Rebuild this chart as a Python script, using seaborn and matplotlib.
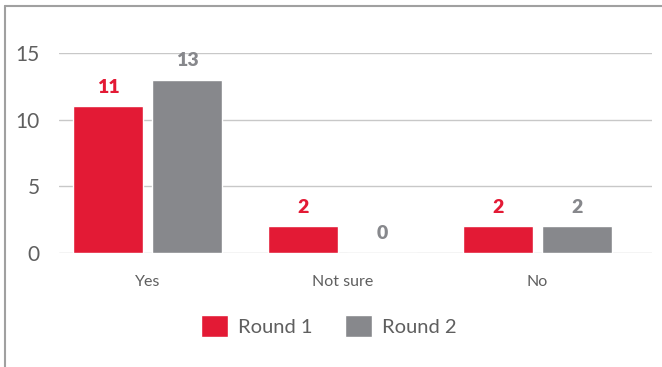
import matplotlib
matplotlib.use("Agg")
import matplotlib.pyplot as plt
import seaborn as sns
import pandas as pd
from matplotlib.lines import Line2D

categories = ['Yes', 'Not sure', 'No']
round1 = [11, 2, 2]
round2 = [13, 0, 2]
series = ['Round 1', 'Round 2']
colors = ['#E31A35', '#87888C']
text_gray = '#5F5F5F'

df = pd.DataFrame({
    'answer': categories * 2,
    'count': round1 + round2,
    'round': [series[0]] * 3 + [series[1]] * 3,
})

sns.set_style('white')
plt.rcParams['font.family'] = ['Lato', 'DejaVu Sans']

fig = plt.figure(figsize=(6.62, 3.67), dpi=100)
ax = fig.add_axes([59 / 662, 1 - 253 / 367, (652 - 59) / 662, 200 / 367])

sns.barplot(data=df, x='answer', y='count', hue='round', order=categories,
            hue_order=series, palette=colors, width=0.81, gap=0.114,
            saturation=1, ax=ax, legend=True)

# value labels
for bars, col in zip(ax.containers, colors):
    for rect in bars:
        h = rect.get_height()
        ax.text(rect.get_x() + rect.get_width() / 2, h + 0.8, f'{int(h)}',
                ha='center', va='bottom', color=col, fontsize=14,
                fontweight='heavy')

ax.set_ylim(0, 15)
ax.set_xlim(-0.454, 2.587)
ax.set_yticks([0, 5, 10, 15])
ax.yaxis.grid(True, color='#C8C8C8', linewidth=1)
ax.set_axisbelow(True)
for s in ax.spines.values():
    s.set_visible(False)
ax.tick_params(axis='y', length=0, labelsize=15, labelcolor=text_gray, pad=14)
ax.tick_params(axis='x', length=0, labelsize=11.5, labelcolor=text_gray, pad=16)
ax.set_xlabel('')
ax.set_ylabel('')

ax.legend(loc='center', bbox_to_anchor=(0.497, 0.112), bbox_transform=fig.transFigure,
          ncol=2, frameon=False, fontsize=14.5, labelcolor=text_gray,
          handlelength=1.35, handleheight=1.35, columnspacing=1.6, handletextpad=0.5)

# outer frame (left and top edge)
fig.add_artist(Line2D([5 / 662, 5 / 662], [0, 1 - 6 / 367], transform=fig.transFigure,
                      color='#A0A0A0', linewidth=1.5))
fig.add_artist(Line2D([5 / 662, 1], [1 - 6 / 367, 1 - 6 / 367], transform=fig.transFigure,
                      color='#A0A0A0', linewidth=1.5))

fig.savefig('out.png', dpi=100)
